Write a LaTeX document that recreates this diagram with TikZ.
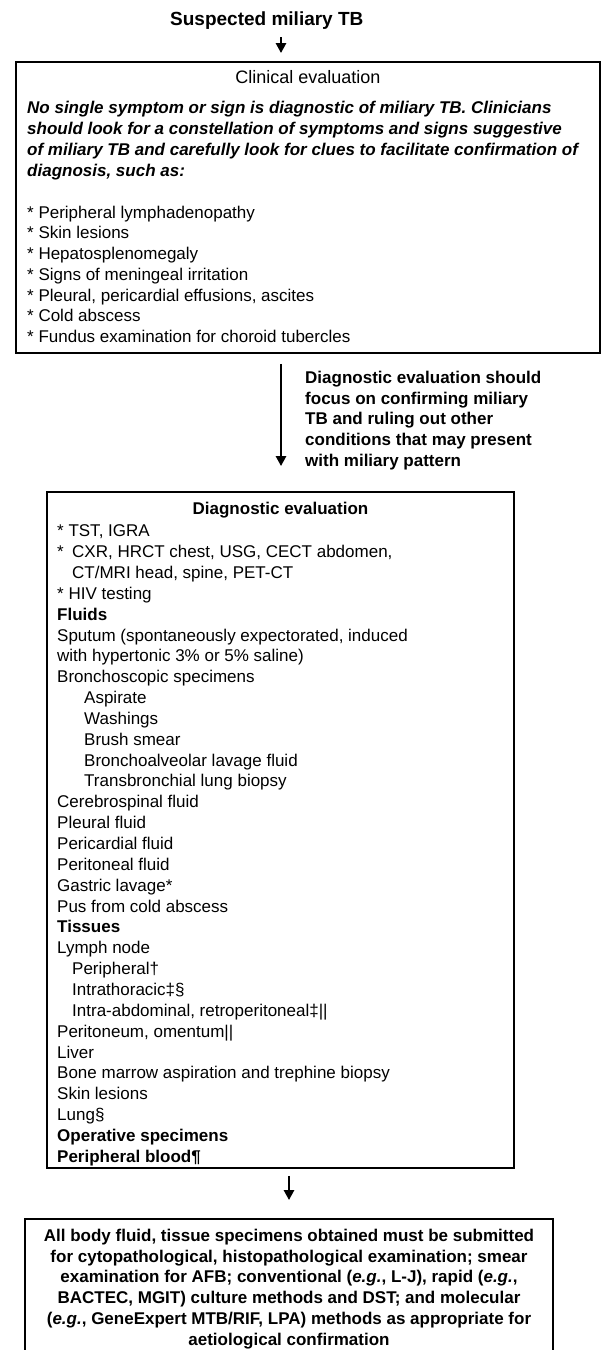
\documentclass[tikz,border=0pt]{standalone}
\usepackage{fontspec}
\setmainfont{Liberation Sans}
\usetikzlibrary{arrows.meta}
\newcommand\bodyfont{\fontsize{17}{20.85}\selectfont}
\tikzset{
  box/.style={draw, line width=1.8pt, inner sep=0pt, rectangle},
  txt/.style={inner sep=0pt, anchor=north west, align=left, font=\bodyfont},
  arr/.style={line width=2.6pt, -{Triangle[width=10pt,length=10pt]}},
}
\begin{document}
\begin{tikzpicture}[x=1pt,y=-1pt]
\useasboundingbox (0,0) rectangle (604,1350);

% title
\node[inner sep=0pt, anchor=base west, font=\fontsize{19}{23}\selectfont\bfseries] (title) at (170,25) {Suspected miliary TB};

% box 1
\node[box, minimum width=584pt, minimum height=291pt] (box1) at (308,207.5) {};
\node[inner sep=0pt, font=\fontsize{18}{22}\selectfont] (h1) at (308,77) {Clinical evaluation};
\node[txt, font=\fontsize{17}{21.2}\selectfont\bfseries\itshape] (intro) at (27,100.7) {No single symptom or sign is diagnostic of miliary TB. Clinicians\\
should look for a constellation of symptoms and signs suggestive\\
of miliary TB and carefully look for clues to facilitate confirmation of\\
diagnosis, such as:};
\node[txt, font=\fontsize{17}{20.7}\selectfont] (signs) at (27,205.7) {* Peripheral lymphadenopathy\\
* Skin lesions\\
* Hepatosplenomegaly\\
* Signs of meningeal irritation\\
* Pleural, pericardial effusions, ascites\\
* Cold abscess\\
* Fundus examination for choroid tubercles};

% box 2
\node[box, minimum width=467pt, minimum height=676pt] (box2) at (280.5,830) {};
\node[inner sep=0pt, font=\bodyfont\bfseries] (h2) at (280.5,510) {Diagnostic evaluation};
\node[txt] (list) at (57,524.7) {* TST, IGRA\\
*\hspace*{8.4pt}CXR, HRCT chest, USG, CECT abdomen,\\
\hspace*{15pt}CT/MRI head, spine, PET-CT\\
* HIV testing\\
\textbf{Fluids}\\
Sputum (spontaneously expectorated, induced\\
with hypertonic 3\% or 5\% saline)\\
Bronchoscopic specimens\\
\hspace*{27pt}Aspirate\\
\hspace*{27pt}Washings\\
\hspace*{27pt}Brush smear\\
\hspace*{27pt}Bronchoalveolar lavage fluid\\
\hspace*{27pt}Transbronchial lung biopsy\\
Cerebrospinal fluid\\
Pleural fluid\\
Pericardial fluid\\
Peritoneal fluid\\
Gastric lavage*\\
Pus from cold abscess\\
\textbf{Tissues}\\
Lymph node\\
\hspace*{15pt}Peripheral†\\
\hspace*{15pt}Intrathoracic‡§\\
\hspace*{15pt}Intra-abdominal, retroperitoneal‡||\\
Peritoneum, omentum||\\
Liver\\
Bone marrow aspiration and trephine biopsy\\
Skin lesions\\
Lung§\\
\textbf{Operative specimens}\\
\textbf{Peripheral blood¶}};

% box 3
\node[box, minimum width=528pt, minimum height=133pt] (box3) at (289,1285.5) {};
\node[inner sep=0pt, anchor=north, align=center, font=\bodyfont\bfseries] (final) at (289,1228.7) {All body fluid, tissue specimens obtained must be submitted\\
for cytopathological, histopathological examination; smear\\
examination for AFB; conventional (\textit{e.g.}, L-J), rapid (\textit{e.g.},\\
BACTEC, MGIT) culture methods and DST; and molecular\\
(\textit{e.g.}, GeneExpert MTB/RIF, LPA) methods as appropriate for\\
aetiological confirmation};

% arrow label
\node[txt, font=\bodyfont\bfseries] (why) at (305,370.7) {Diagnostic evaluation should\\
focus on confirming miliary\\
TB and ruling out other\\
conditions that may present\\
with miliary pattern};

% connectors
\coordinate (c1) at (281,37);
\coordinate (c2) at (281,0);
\draw[arr, shorten >=8pt] (c1) -- (box1.north -| c1);
\draw[arr, shorten <=10pt, shorten >=25pt] (box1.south -| c2) -- (box2.north -| c2);
\draw[arr, shorten <=7pt, shorten >=18pt] (box2.south -| box3.north) -- (box3.north);
\end{tikzpicture}
\end{document}
